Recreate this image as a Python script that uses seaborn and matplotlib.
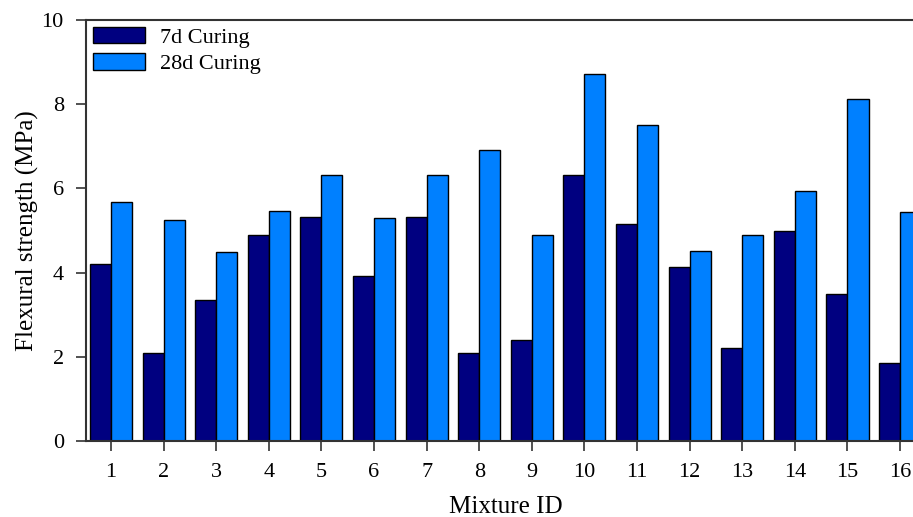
import pandas as pd
import matplotlib.pyplot as plt
import seaborn as sns

# Data
mixtures = [str(i) for i in range(1, 17)]
curing_7d = [4.20, 2.08, 3.35, 4.90, 5.33, 3.92, 5.33, 2.08,
             2.40, 6.32, 5.15, 4.13, 2.20, 5.00, 3.50, 1.85]
curing_28d = [5.68, 5.25, 4.48, 5.47, 6.32, 5.30, 6.32, 6.92,
              4.90, 8.72, 7.52, 4.52, 4.90, 5.95, 8.12, 5.45]
series_names = ['7d Curing', '28d Curing']

df = pd.DataFrame({
    'Mixture ID': mixtures * 2,
    'Strength': curing_7d + curing_28d,
    'Curing': [series_names[0]] * 16 + [series_names[1]] * 16,
})

sns.set_style('ticks')
plt.rcParams['font.family'] = ['Liberation Serif', 'DejaVu Serif']
plt.rcParams['text.color'] = 'black'
plt.rcParams['xtick.labelcolor'] = 'black'
plt.rcParams['ytick.labelcolor'] = 'black'

fig = plt.figure(figsize=(9.13, 5.17), dpi=100)
ax = fig.add_axes([0.0942, 0.147, 0.919, 0.814])

sns.barplot(data=df, x='Mixture ID', y='Strength', hue='Curing',
            hue_order=series_names, palette=['#000080', '#0080FF'],
            width=0.8, edgecolor='black', linewidth=1.0, saturation=1,
            ax=ax)

ax.set_xlim(-0.475, 15.475)
ax.set_ylim(0, 10)
ax.set_yticks([0, 2, 4, 6, 8, 10])
ax.set_xlabel('Mixture ID', fontsize=18, labelpad=10, color='black')
ax.set_ylabel('Flexural strength (MPa)', fontsize=18, labelpad=2, color='black')
ax.tick_params(axis='both', labelsize=16, direction='out', length=7,
               width=1.2, color='#333333', pad=9)
for side in ['left', 'top', 'bottom', 'right']:
    ax.spines[side].set_color('#333333')
    ax.spines[side].set_linewidth(1.5)

leg = ax.legend(loc='upper left', frameon=False, fontsize=16,
                handlelength=2.35, handleheight=0.75, borderaxespad=0.1,
                borderpad=0.2, labelspacing=0.25, handletextpad=0.7)

fig.savefig('out.png', dpi=100)
